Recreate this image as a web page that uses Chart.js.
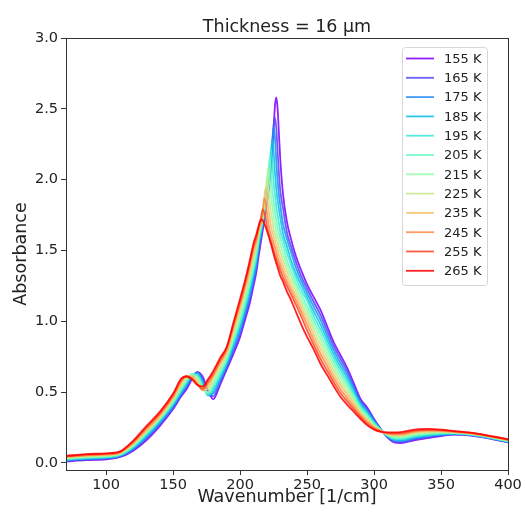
<!DOCTYPE html>
<html>
<head>
<meta charset="utf-8">
<script src="https://cdn.jsdelivr.net/npm/chart.js@4.4.0/dist/chart.umd.min.js"></script>
<style>
  body { margin: 0; background: #fff; }
  #wrap { width: 526px; height: 512px; }
</style>
</head>
<body>
<div id="wrap"><canvas id="chart" width="526" height="512"></canvas></div>
<script>
// wavenumber grid [1/cm], shared by all temperatures
const wavenumber = [70, 85, 100, 110, 120, 130, 140, 150,
  156, 160, 164, 168, 172, 176, 180, 185, 190, 195, 200, 204, 207, 210, 212,
  214, 215, 216, 217, 218, 219, 220, 221, 222, 223, 224, 225, 226, 227, 228, 229, 230,
  232, 235, 238, 242, 246, 250,
  255, 260, 265, 270, 275, 280, 285, 290, 295, 300, 305, 310, 315, 320,
  330, 340, 350, 360, 375, 390, 400];

const temps = ['155 K', '165 K', '175 K', '185 K', '195 K', '205 K',
  '215 K', '225 K', '235 K', '245 K', '255 K', '265 K'];

// absorbance, one array per temperature
const abs155 = [0.010, 0.020, 0.026, 0.040, 0.085, 0.16, 0.26, 0.38,
  0.47, 0.52, 0.59, 0.64, 0.61, 0.51, 0.45, 0.55, 0.66, 0.77, 0.89, 1.02, 1.12, 1.25, 1.34,
  1.47, 1.53, 1.59, 1.65, 1.71, 1.77, 1.84, 1.91, 1.98, 2.08, 2.20, 2.36, 2.52, 2.58, 2.50, 2.32, 2.14,
  1.90, 1.70, 1.58, 1.45, 1.35, 1.26,
  1.17, 1.08, 0.965, 0.85, 0.76, 0.67, 0.56, 0.45, 0.39, 0.31, 0.24, 0.18, 0.145, 0.14,
  0.16, 0.175, 0.19, 0.20, 0.19, 0.165, 0.145];
const abs165 = [0.014, 0.024, 0.030, 0.044, 0.091, 0.17, 0.27, 0.39,
  0.48, 0.53, 0.60, 0.64, 0.59, 0.49, 0.47, 0.57, 0.67, 0.79, 0.91, 1.04, 1.15, 1.28, 1.37,
  1.50, 1.557, 1.615, 1.67, 1.725, 1.785, 1.855, 1.925, 2.00, 2.10, 2.23, 2.38, 2.44, 2.365, 2.20, 2.04, 1.92,
  1.80, 1.625, 1.53, 1.41, 1.31, 1.23,
  1.136, 1.045, 0.934, 0.822, 0.733, 0.646, 0.542, 0.437, 0.379, 0.303, 0.238, 0.183, 0.151, 0.147,
  0.167, 0.181, 0.194, 0.202, 0.192, 0.167, 0.147];
const abs175 = [0.017, 0.028, 0.034, 0.047, 0.098, 0.18, 0.28, 0.40,
  0.49, 0.545, 0.61, 0.635, 0.58, 0.48, 0.49, 0.58, 0.69, 0.81, 0.94, 1.07, 1.17, 1.30, 1.39,
  1.53, 1.58, 1.635, 1.685, 1.74, 1.80, 1.87, 1.94, 2.02, 2.13, 2.27, 2.37, 2.30, 2.13, 1.99, 1.89, 1.82,
  1.69, 1.58, 1.49, 1.37, 1.28, 1.20,
  1.103, 1.011, 0.902, 0.794, 0.706, 0.623, 0.524, 0.425, 0.367, 0.296, 0.236, 0.186, 0.158, 0.154,
  0.174, 0.187, 0.198, 0.205, 0.194, 0.169, 0.149];
const abs185 = [0.021, 0.031, 0.037, 0.051, 0.104, 0.19, 0.29, 0.41,
  0.50, 0.555, 0.615, 0.63, 0.57, 0.475, 0.51, 0.60, 0.70, 0.83, 0.96, 1.09, 1.20, 1.33, 1.42,
  1.56, 1.605, 1.65, 1.70, 1.75, 1.815, 1.885, 1.955, 2.04, 2.17, 2.29, 2.20, 2.05, 1.935, 1.855, 1.79, 1.73,
  1.62, 1.53, 1.43, 1.33, 1.25, 1.17,
  1.069, 0.976, 0.871, 0.765, 0.679, 0.599, 0.505, 0.412, 0.356, 0.29, 0.235, 0.19, 0.164, 0.161,
  0.18, 0.193, 0.202, 0.207, 0.195, 0.17, 0.151];
const abs195 = [0.025, 0.035, 0.041, 0.054, 0.110, 0.20, 0.30, 0.42,
  0.51, 0.57, 0.625, 0.62, 0.55, 0.48, 0.53, 0.62, 0.72, 0.85, 0.99, 1.12, 1.23, 1.36, 1.44,
  1.57, 1.62, 1.67, 1.713, 1.764, 1.83, 1.90, 1.97, 2.08, 2.22, 2.14, 1.98, 1.89, 1.81, 1.75, 1.69, 1.635,
  1.575, 1.48, 1.40, 1.30, 1.215, 1.147,
  1.035, 0.942, 0.839, 0.737, 0.653, 0.575, 0.487, 0.399, 0.345, 0.283, 0.233, 0.193, 0.17, 0.168,
  0.187, 0.199, 0.206, 0.209, 0.197, 0.172, 0.153];
const abs205 = [0.028, 0.039, 0.045, 0.058, 0.117, 0.21, 0.31, 0.43,
  0.525, 0.58, 0.628, 0.61, 0.535, 0.49, 0.55, 0.64, 0.73, 0.87, 1.01, 1.15, 1.26, 1.38, 1.47,
  1.59, 1.64, 1.68, 1.727, 1.777, 1.843, 1.913, 2.02, 2.16, 2.07, 1.925, 1.845, 1.775, 1.715, 1.655, 1.62, 1.585,
  1.53, 1.43, 1.355, 1.26, 1.185, 1.105,
  1.002, 0.907, 0.808, 0.709, 0.626, 0.552, 0.469, 0.386, 0.333, 0.276, 0.231, 0.196, 0.177, 0.175,
  0.194, 0.205, 0.21, 0.211, 0.199, 0.174, 0.155];
const abs215 = [0.032, 0.043, 0.049, 0.062, 0.123, 0.215, 0.315, 0.44,
  0.535, 0.59, 0.62, 0.60, 0.525, 0.50, 0.57, 0.66, 0.75, 0.89, 1.04, 1.18, 1.29, 1.42, 1.50,
  1.61, 1.654, 1.696, 1.736, 1.79, 1.86, 1.96, 2.09, 2.01, 1.88, 1.81, 1.74, 1.68, 1.63, 1.60, 1.57, 1.54,
  1.475, 1.39, 1.32, 1.235, 1.15, 1.075,
  0.968, 0.873, 0.777, 0.681, 0.599, 0.528, 0.451, 0.374, 0.322, 0.269, 0.229, 0.199, 0.183, 0.182,
  0.201, 0.21, 0.215, 0.214, 0.201, 0.176, 0.157];
const abs225 = [0.036, 0.047, 0.053, 0.066, 0.130, 0.22, 0.32, 0.45,
  0.55, 0.60, 0.615, 0.585, 0.515, 0.52, 0.59, 0.68, 0.77, 0.92, 1.07, 1.21, 1.32, 1.45, 1.52,
  1.635, 1.664, 1.70, 1.746, 1.80, 1.90, 2.01, 1.94, 1.84, 1.77, 1.71, 1.65, 1.615, 1.585, 1.555, 1.525, 1.49,
  1.43, 1.355, 1.285, 1.20, 1.12, 1.045,
  0.934, 0.838, 0.745, 0.653, 0.572, 0.505, 0.433, 0.361, 0.31, 0.262, 0.227, 0.202, 0.19, 0.189,
  0.208, 0.216, 0.219, 0.216, 0.203, 0.178, 0.159];
const abs235 = [0.039, 0.051, 0.057, 0.069, 0.136, 0.23, 0.33, 0.46,
  0.56, 0.61, 0.61, 0.57, 0.51, 0.54, 0.61, 0.70, 0.78, 0.94, 1.10, 1.24, 1.35, 1.48, 1.55,
  1.645, 1.674, 1.715, 1.758, 1.86, 1.94, 1.88, 1.80, 1.735, 1.675, 1.63, 1.60, 1.57, 1.54, 1.505, 1.47, 1.44,
  1.39, 1.315, 1.25, 1.17, 1.09, 1.01,
  0.901, 0.804, 0.714, 0.625, 0.546, 0.481, 0.415, 0.348, 0.299, 0.255, 0.225, 0.205, 0.196, 0.196,
  0.215, 0.222, 0.223, 0.218, 0.205, 0.18, 0.161];
const abs245 = [0.043, 0.054, 0.060, 0.073, 0.142, 0.24, 0.34, 0.47,
  0.575, 0.615, 0.60, 0.56, 0.515, 0.56, 0.62, 0.71, 0.80, 0.96, 1.12, 1.26, 1.38, 1.51, 1.57,
  1.66, 1.685, 1.72, 1.79, 1.87, 1.84, 1.765, 1.70, 1.645, 1.61, 1.58, 1.55, 1.52, 1.49, 1.45, 1.425, 1.40,
  1.35, 1.28, 1.22, 1.14, 1.06, 0.975,
  0.867, 0.769, 0.683, 0.596, 0.519, 0.457, 0.396, 0.335, 0.288, 0.249, 0.224, 0.209, 0.202, 0.203,
  0.221, 0.228, 0.227, 0.22, 0.206, 0.181, 0.163];
const abs255 = [0.046, 0.058, 0.064, 0.076, 0.149, 0.25, 0.35, 0.48,
  0.585, 0.612, 0.595, 0.555, 0.525, 0.575, 0.635, 0.725, 0.81, 0.975, 1.14, 1.28, 1.40, 1.53, 1.59,
  1.67, 1.705, 1.755, 1.79, 1.77, 1.73, 1.67, 1.625, 1.595, 1.565, 1.535, 1.50, 1.47, 1.44, 1.41, 1.39, 1.36,
  1.31, 1.25, 1.19, 1.11, 1.025, 0.935,
  0.834, 0.735, 0.651, 0.568, 0.492, 0.434, 0.378, 0.323, 0.276, 0.242, 0.222, 0.212, 0.209, 0.21,
  0.228, 0.234, 0.231, 0.223, 0.208, 0.183, 0.165];
const abs265 = [0.050, 0.062, 0.068, 0.080, 0.155, 0.26, 0.36, 0.49,
  0.595, 0.61, 0.59, 0.55, 0.54, 0.59, 0.65, 0.74, 0.82, 0.99, 1.16, 1.30, 1.42, 1.55, 1.61,
  1.68, 1.71, 1.72, 1.71, 1.69, 1.665, 1.64, 1.61, 1.58, 1.545, 1.51, 1.475, 1.44, 1.41, 1.38, 1.35, 1.32,
  1.28, 1.21, 1.15, 1.06, 0.97, 0.89,
  0.80, 0.70, 0.62, 0.54, 0.465, 0.41, 0.36, 0.31, 0.265, 0.235, 0.22, 0.215, 0.215, 0.217,
  0.235, 0.24, 0.235, 0.225, 0.21, 0.185, 0.167];

const xTicks = [100, 150, 200, 250, 300, 350, 400];
const yTicks = [0.0, 0.5, 1.0, 1.5, 2.0, 2.5, 3.0];

// matplotlib "rainbow" colours, one per temperature
const lineColors = ['#8000ff', '#5148fc', '#238af5', '#0cc1e8', '#3ae8d7', '#68fcc1',
  '#97fca7', '#c5e88a', '#f3c16a', '#ff8a48', '#ff4824', '#ff0000'];

const series = [abs155, abs165, abs175, abs185, abs195, abs205,
  abs215, abs225, abs235, abs245, abs255, abs265];

const FONT = "'DejaVu Sans', sans-serif";
const INK = '#222';

const datasets = series.map((vals, i) => ({
  label: temps[i],
  data: vals.map((v, j) => ({ x: wavenumber[j], y: v })),
  borderColor: lineColors[i] + 'dd',
  borderWidth: 1.8,
  pointRadius: 0,
  fill: false,
  cubicInterpolationMode: 'monotone',
  order: series.length - i
}));

// box round the plot area + title
const frame = {
  id: 'frame',
  afterDraw(chart) {
    const { ctx, chartArea: a } = chart;
    ctx.save();
    ctx.strokeStyle = '#333';
    ctx.lineWidth = 1;
    ctx.strokeRect(Math.round(a.left) + 0.5, Math.round(a.top) + 0.5,
      Math.round(a.right - a.left), Math.round(a.bottom - a.top));
    ctx.fillStyle = INK;
    ctx.font = '17.5px ' + FONT;
    ctx.textAlign = 'center';
    ctx.textBaseline = 'alphabetic';
    ctx.fillText('Thickness = 16 µm', (a.left + a.right) / 2, 32);
    ctx.restore();
  }
};

// matplotlib-like legend in upper right
const legendBox = {
  id: 'legendBox',
  afterDraw(chart) {
    const ctx = chart.ctx;
    const x0 = 402, y0 = 47, w = 85, h = 238;
    ctx.save();
    ctx.beginPath();
    ctx.roundRect(x0 + 0.5, y0 + 0.5, w, h, 3);
    ctx.fillStyle = 'rgba(255,255,255,0.85)';
    ctx.fill();
    ctx.strokeStyle = '#d6d6d6';
    ctx.lineWidth = 1;
    ctx.stroke();
    ctx.font = '13px ' + FONT;
    ctx.textBaseline = 'middle';
    ctx.textAlign = 'left';
    chart.data.datasets.forEach((ds, i) => {
      const y = 58.5 + i * 19.3;
      ctx.strokeStyle = ds.borderColor;
      ctx.lineWidth = 1.8;
      ctx.beginPath();
      ctx.moveTo(406, y);
      ctx.lineTo(434, y);
      ctx.stroke();
      ctx.fillStyle = INK;
      ctx.fillText(ds.label, 444, y + 1);
    });
    ctx.restore();
  }
};

new Chart(document.getElementById('chart'), {
  type: 'line',
  data: { datasets: datasets },
  options: {
    responsive: false,
    animation: false,
    devicePixelRatio: 1,
    layout: { padding: { top: 38, right: 18, left: 0, bottom: 0 } },
    plugins: { legend: { display: false }, tooltip: { enabled: false } },
    scales: {
      x: {
        type: 'linear',
        min: 70,
        max: 400,
        afterBuildTicks: s => { s.ticks = xTicks.map(v => ({ value: v })); },
        afterFit: s => { s.height = 42; },
        grid: { drawOnChartArea: false, drawTicks: true, tickLength: 5, color: '#333' },
        border: { display: true, color: '#333' },
        ticks: { color: INK, font: { family: FONT, size: 14.5 }, padding: 2, maxRotation: 0,
          callback: v => String(v) },
        title: { display: true, text: 'Wavenumber [1/cm]', color: INK,
          font: { family: FONT, size: 17.5 }, padding: { top: 0, bottom: 4 } }
      },
      y: {
        type: 'linear',
        min: -0.05,
        max: 3.0,
        afterBuildTicks: s => { s.ticks = yTicks.map(v => ({ value: v })); },
        afterFit: s => { s.width = 66; },
        grid: { drawOnChartArea: false, drawTicks: true, tickLength: 5, color: '#333' },
        border: { display: true, color: '#333' },
        ticks: { color: INK, font: { family: FONT, size: 14.5 }, padding: 3,
          callback: v => v.toFixed(1) },
        title: { display: true, text: 'Absorbance', color: INK,
          font: { family: FONT, size: 17.5 }, padding: { top: 11, bottom: 0 } }
      }
    }
  },
  plugins: [frame, legendBox]
});
</script>
</body>
</html>
